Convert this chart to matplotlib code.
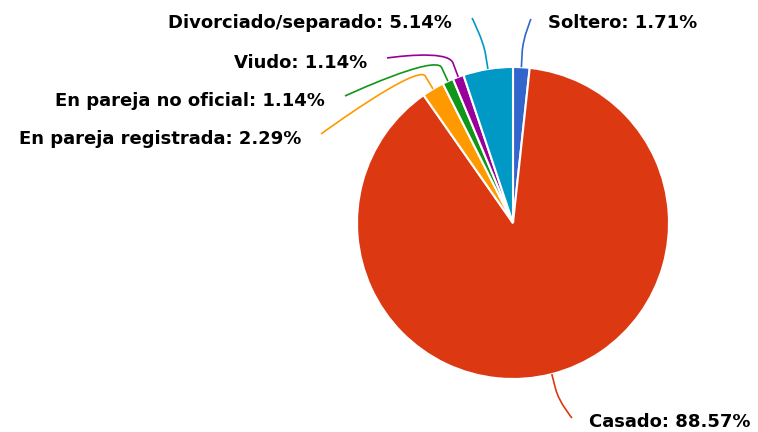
import numpy as np
import matplotlib
matplotlib.use("Agg")
import matplotlib.pyplot as plt
from matplotlib.path import Path
from matplotlib.patches import PathPatch

categories = ["Soltero", "Casado", "En pareja registrada", "En pareja no oficial", "Viudo", "Divorciado/separado"]
values = [1.71, 88.57, 2.29, 1.14, 1.14, 5.14]
colors = ["#3366cc", "#dc3912", "#ff9900", "#109618", "#990099", "#0099c6"]

# label anchor (connector end) in pixel coords (y down), text side
label_anchor = [(531, 19), (572, 418), (321, 134), (345, 96), (387, 58), (472, 18)]
label_side = ["left", "left", "right", "right", "right", "right"]

W, H = 758, 432
fig = plt.figure(figsize=(W / 100, H / 100), dpi=100)
ax = fig.add_axes([0, 0, 1, 1])
ax.set_xlim(0, W)
ax.set_ylim(0, H)
ax.set_aspect("equal")
ax.axis("off")

cx, cy, r = 513, H - 223, 156
wedges, _ = ax.pie(values, colors=colors, startangle=90, counterclock=False,
                   center=(cx, cy), radius=r,
                   wedgeprops=dict(edgecolor="white", linewidth=1.5))
ax.set_xlim(0, W)
ax.set_ylim(0, H)

total = sum(values)
cum = 0
for i, v in enumerate(values):
    mid = 90 - 360 * (cum + v / 2) / total
    cum += v
    a = np.deg2rad(mid)
    ex, ey = cx + r * np.cos(a), cy + r * np.sin(a)
    bx, by = cx + (r + 15) * np.cos(a), cy + (r + 15) * np.sin(a)
    lx, ly = label_anchor[i][0], H - label_anchor[i][1]
    verts = [(lx, ly), (lx, ly), (2 * bx - ex, 2 * by - ey), (bx, by), (ex, ey)]
    codes = [Path.MOVETO, Path.CURVE4, Path.CURVE4, Path.CURVE4, Path.LINETO]
    ax.add_patch(PathPatch(Path(verts, codes), fill=False, edgecolor=colors[i], lw=1.2))
    txt = f"{categories[i]}: {v:.2f}%"
    if label_side[i] == "left":
        ax.text(lx + 17, ly - 9, txt, ha="left", va="baseline", fontsize=13,
                fontweight="bold", color="black", family="DejaVu Sans")
    else:
        ax.text(lx - 20, ly - 10, txt, ha="right", va="baseline", fontsize=13,
                fontweight="bold", color="black", family="DejaVu Sans")

fig.savefig("out.png", dpi=100, facecolor="white")
